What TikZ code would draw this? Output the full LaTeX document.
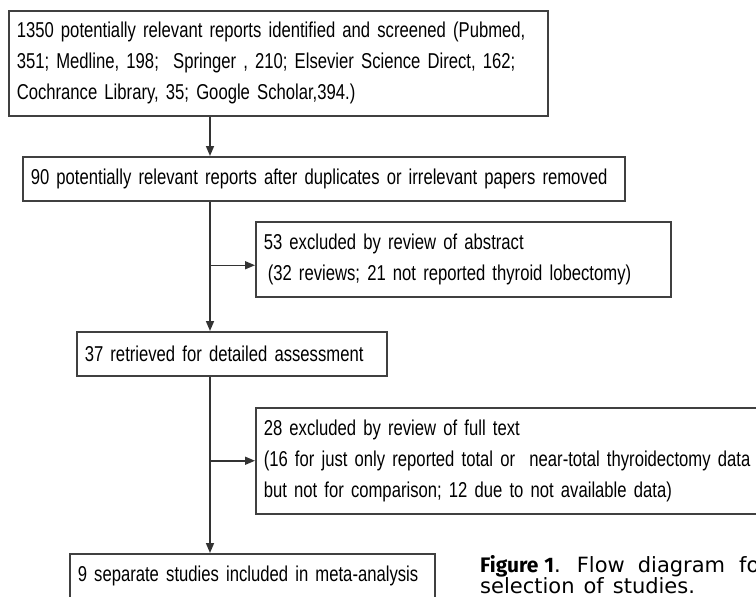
\documentclass[tikz,border=0pt]{standalone}
\usepackage{fontspec}
\newfontfamily\flowfont{Liberation Sans}[FakeStretch=0.775]
\newfontfamily\capfont{DejaVu Sans}[BoldFont={Fira Sans Bold}]
\usetikzlibrary{arrows.meta}
\usetikzlibrary{positioning}

\tikzset{
  flowbox/.style={draw=black!75, line width=1.5pt, anchor=north west, align=left,
    inner xsep=8pt, inner ysep=0pt, font=\flowfont\fontsize{21.5}{31}\selectfont},
  flowline/.style={line width=1.5pt, draw=black!80},
  flowarrow/.style={flowline, -{Triangle[length=10pt,width=8pt]}}
}

\begin{document}
\begin{tikzpicture}[x=1pt,y=-1pt]
  \useasboundingbox (0,0) rectangle (756,597);
  \clip (0,0) rectangle (756,597);

  % main column of the flow
  \node[flowbox, text width=523pt, minimum height=105pt] (found) at (8,10)
    {\mbox{1350 potentially relevant reports identified and screened (Pubmed,}\\
     \mbox{351; Medline, 198;\ \ Springer , 210; Elsevier Science Direct, 162;}\\
     Cochrance Library, 35; Google Scholar,394.)};
  \node[flowbox, text width=586pt, minimum height=44pt] (screened) at (22,156)
    {\mbox{90 potentially relevant reports after duplicates or irrelevant papers removed}};
  \node[flowbox, text width=294pt, minimum height=44pt] (retrieved) at (76,331)
    {37 retrieved for detailed assessment};
  \node[flowbox, text width=349pt, minimum height=44pt] (included) at (69,553)
    {\mbox{9 separate studies included in meta-analysis}};

  % exclusions to the right
  \node[flowbox, text width=399pt, minimum height=75pt] (abstract) at (255,221)
    {53 excluded by review of abstract\\
     \mbox{\hspace{4pt}(32 reviews; 21 not reported thyroid lobectomy)}};
  \node[flowbox, text width=504pt, minimum height=106pt] (fulltext) at (255,407)
    {28 excluded by review of full text\\
     \mbox{(16 for just only reported total or\ \ near-total thyroidectomy data}\\
     but not for comparison; 12 due to not available data)};

  % connectors
  \coordinate (spine) at (210,0);
  \coordinate (absin) at ([yshift=-6pt]abstract.west);
  \draw[flowarrow] (found.south -| spine) -- (screened.north -| spine);
  \draw[flowarrow] (screened.south -| spine) -- (retrieved.north -| spine);
  \draw[flowarrow] (absin -| spine) -- (absin);
  \draw[flowarrow] (retrieved.south -| spine) -- (included.north -| spine);
  \draw[flowarrow] (fulltext.west -| spine) -- (fulltext.west);

  % caption
  \node[anchor=north west, align=left, inner sep=0pt,
    font=\capfont\fontsize{21}{20}\selectfont] (caption) at (480,555)
    {\textbf{Figure\hspace{6pt}1}.\hspace{16pt}Flow\hspace{13pt}diagram\hspace{14pt}fo\\
     selection\hspace{9pt}of\hspace{9pt}studies.};
\end{tikzpicture}
\end{document}
